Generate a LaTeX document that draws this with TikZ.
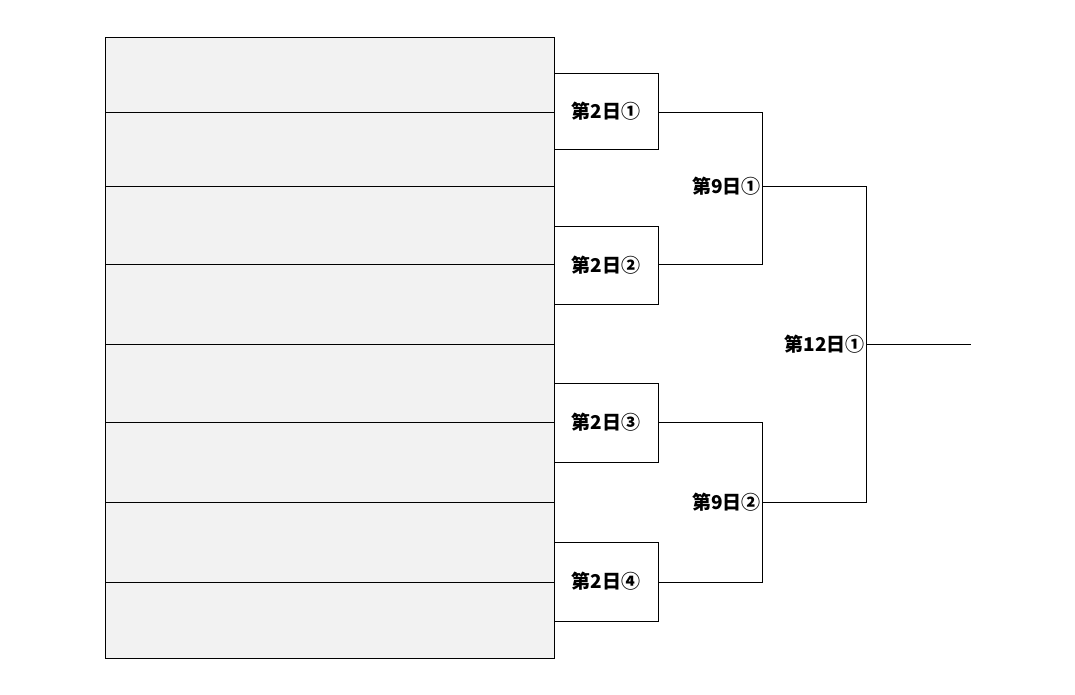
\documentclass[tikz,border=0pt]{standalone}
\usepackage{fontspec}
\newfontfamily\cjk{Noto Sans CJK JP}
\tikzset{
    slot/.style={draw,fill=black!5,minimum width=449pt,minimum height=#1,inner sep=0pt,anchor=north west},
    game/.style={draw,fill=white,minimum width=104pt,minimum height=#1,inner sep=0pt,font=\cjk\bfseries\fontsize{19}{22}\selectfont},
    round/.style={inner sep=1pt,font=\cjk\bfseries\fontsize{19}{22}\selectfont}
}
\begin{document}
\begin{tikzpicture}[x=1pt,y=-1pt]
    \useasboundingbox (0,0) rectangle (1075,695);
    % entry slots
    \foreach \t/\b [count=\i] in {37/112,112/186,186/264,264/344,344/422,422/502,502/582,582/658}
        \node[slot=\b pt-\t pt] (s\i) at (105,\t) {};
    % first round
    \node[game=76pt] (g1) at (606,111) {第2日①};
    \node[game=78pt] (g2) at (606,265) {第2日②};
    \node[game=79pt] (g3) at (606,422.5) {第2日③};
    \node[game=79pt] (g4) at (606,581.5) {第2日④};
    % semifinals
    \coordinate (m1) at (762,186);
    \coordinate (m2) at (762,502);
    \node[round,anchor=east] (r1) at (m1) {第9日①};
    \node[round,anchor=east] (r2) at (m2) {第9日②};
    \draw (g1.east |- 0,112) -| (m1) |- (g2.east |- 0,264);
    \draw (g3.east |- 0,422) -| (m2) |- (g4.east |- 0,582);
    % final
    \coordinate (f) at (866,344);
    \coordinate (w) at (971,344);
    \node[round,anchor=east] (r3) at (f) {第12日①};
    \draw (m1) -| (f) |- (m2);
    \draw (f) -- (w);
\end{tikzpicture}
\end{document}
